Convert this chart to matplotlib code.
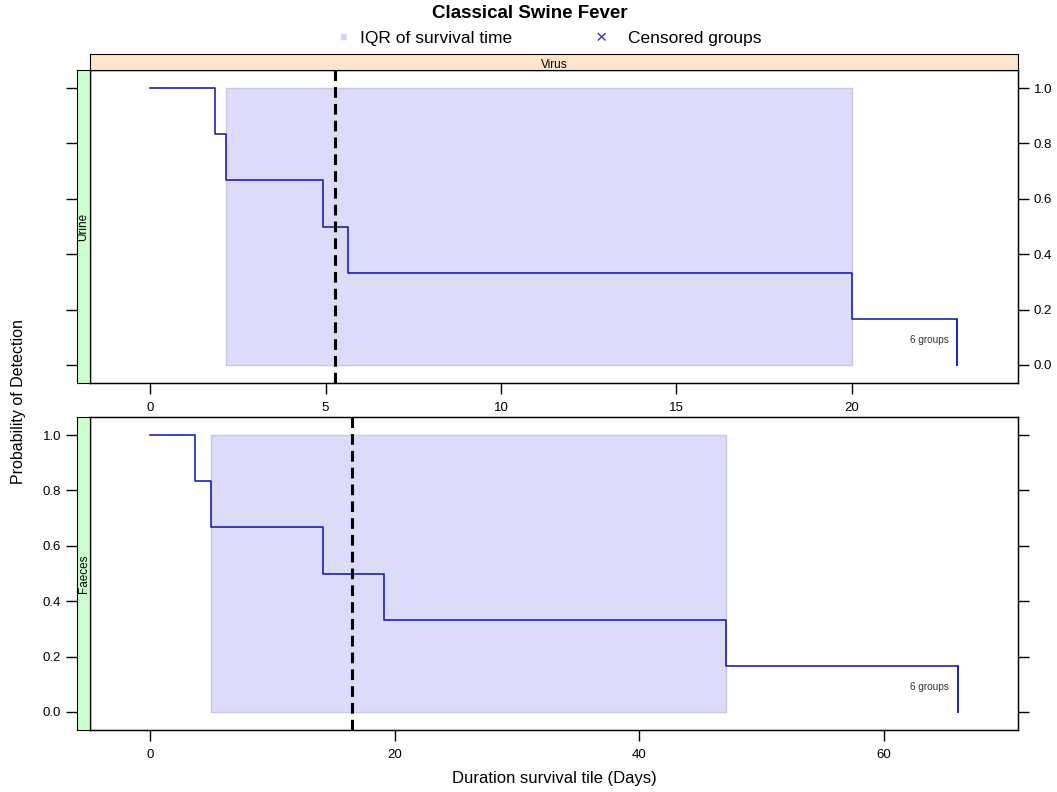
import matplotlib.pyplot as plt
import numpy as np

plt.rcParams['font.family'] = ['Liberation Sans', 'DejaVu Sans']

# Step survival curves (time at each drop, probability after drop)
urine_times = [0, 1.85, 2.16, 4.93, 5.64, 20.0, 23.0]
urine_prob = [1.0, 0.833, 0.667, 0.5, 0.333, 0.167, 0.0]
faeces_times = [0, 3.68, 5.0, 14.15, 19.1, 47.1, 66.1]
faeces_prob = [1.0, 0.833, 0.667, 0.5, 0.333, 0.167, 0.0]

# IQR of survival time and median lines
urine_iqr = (2.16, 20.0)
faeces_iqr = (5.0, 47.1)
urine_median = 5.27
faeces_median = 16.5

urine_xticks = [0, 5, 10, 15, 20]
faeces_xticks = [0, 20, 40, 60]
yticks = [0.0, 0.2, 0.4, 0.6, 0.8, 1.0]

W, H = 1057, 792
fig = plt.figure(figsize=(W / 100, H / 100), dpi=100)


def box(x0, y0, x1, y1):
    # pixel box -> figure fraction rect
    return [x0 / W, 1 - y1 / H, (x1 - x0) / W, (y1 - y0) / H]


line_col = '#2020b0'
fill_col = '#dcdcfa'
tick_kw = dict(direction='out', length=8, width=1, labelsize=9.5, colors='black')


def panel(ax, strip, times, prob, iqr, med, xlim, xticks, label_side, name, txt_x):
    ax.set_xlim(*xlim)
    ax.set_ylim(-0.065, 1.065)
    ax.fill_between(iqr, 0, 1, facecolor=fill_col, edgecolor='#c8c8e6', lw=1)
    ax.step(times, prob, where='post', color=line_col, lw=1.2)
    ax.plot([times[-1], times[-1]], [prob[-2], 0], color=line_col, lw=1.2)
    ax.axvline(med, color='black', lw=2.2, ls=(0, (3.5, 2)))
    ax.text(txt_x, 0.09, '6 groups', fontsize=7.2, ha='right', va='center', color='#333333')
    ax.set_xticks(xticks)
    ax.tick_params(axis='x', pad=6, **tick_kw)
    ax.set_yticks([])
    for sp in ax.spines.values():
        sp.set_linewidth(1)

    strip.set_facecolor('#ccffcc')
    strip.set_xticks([])
    strip.set_ylim(ax.get_ylim())
    strip.set_yticks(yticks)
    strip.tick_params(axis='y', **tick_kw)
    ax2 = ax.twinx()
    ax2.set_ylim(ax.get_ylim())
    ax2.set_yticks(yticks)
    ax2.tick_params(axis='y', **tick_kw)
    labels = ['%.1f' % v for v in yticks]
    if label_side == 'left':
        strip.set_yticklabels(labels)
        ax2.set_yticklabels([])
    else:
        strip.set_yticklabels([])
        ax2.set_yticklabels(labels)
    strip.text(0.5, 0.5, name, rotation=90, ha='center', va='center',
               fontsize=8.5, transform=strip.transAxes)


ax_top = fig.add_axes(box(90, 70, 1018, 383))
strip_top = fig.add_axes(box(77, 70, 90, 383))
panel(ax_top, strip_top, urine_times, urine_prob, urine_iqr, urine_median,
      (-1.71, 24.73), urine_xticks, 'right', 'Urine', 22.75)

ax_bot = fig.add_axes(box(90, 417, 1018, 730))
strip_bot = fig.add_axes(box(77, 417, 90, 730))
panel(ax_bot, strip_bot, faeces_times, faeces_prob, faeces_iqr, faeces_median,
      (-4.9, 70.97), faeces_xticks, 'left', 'Faeces', 65.3)

# top strip "Virus"
vs = fig.add_axes(box(90, 54, 1018, 70))
vs.set_facecolor('#ffe5cc')
vs.set_xticks([])
vs.set_yticks([])
vs.text(0.5, 0.3, 'Virus', ha='center', va='center', fontsize=8.5, transform=vs.transAxes)

fig.text(530 / W, 1 - 13 / H, 'Classical Swine Fever', ha='center', va='center',
         fontsize=13.5, fontweight='bold')
fig.text(343 / W, 1 - 38 / H, '\u25a0', ha='center', va='center', fontsize=9, color='#d4d4f4')
fig.text(360 / W, 1 - 39 / H, 'IQR of survival time', ha='left', va='center', fontsize=12.5)
fig.text(601 / W, 1 - 39 / H, '\u00d7', ha='center', va='center', fontsize=14, color='#3030b0')
fig.text(628 / W, 1 - 39 / H, 'Censored groups', ha='left', va='center', fontsize=12.5)

fig.text(18 / W, 1 - 402 / H, 'Probability of Detection', rotation=90, ha='center',
         va='center', fontsize=11.5)
fig.text(554 / W, 1 - 778 / H, 'Duration survival tile (Days)', ha='center',
         va='center', fontsize=12)

fig.savefig('out.png', dpi=100)
